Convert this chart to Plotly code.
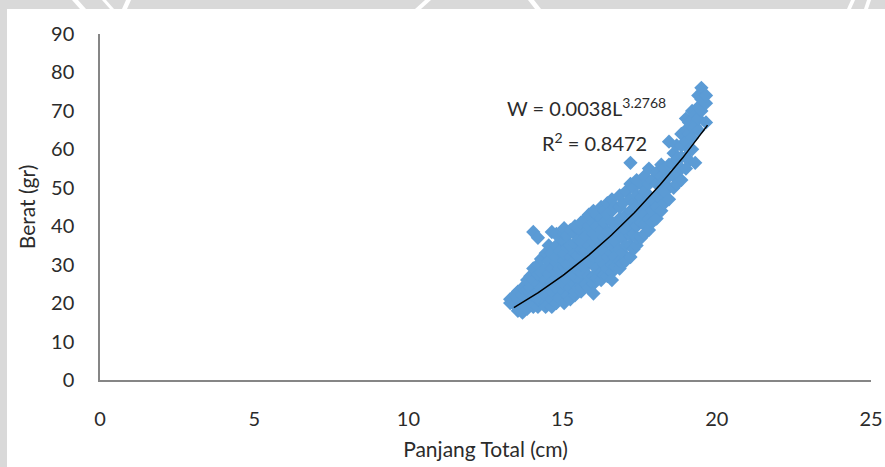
import numpy as np
import plotly.graph_objects as go

# ---- data ----
panjang = {
    13.3: [21, 20],
    13.45: [19.5, 22],
    13.55: [18, 21, 23],
    13.7: [17.5, 20, 22, 24, 19],
    13.85: [18.5, 21, 23.5, 26],
    13.95: [20, 24, 27],
    14.05: [38.5, 22, 26, 19, 29],
    14.2: [19, 21, 23, 25, 27.5, 30, 37],
    14.3: [20.5, 24, 28, 31.5],
    14.45: [20, 22, 26, 29, 33, 19],
    14.55: [24, 27.5, 31, 35],
    14.65: [19, 21, 23, 25.5, 29, 33, 38.5],
    14.8: [20, 22, 24, 26.5, 28, 30.5, 32, 35, 38],
    14.9: [21.5, 25, 29, 33.5, 37],
    15.05: [20, 23, 25, 27, 29.5, 31, 33, 36, 38, 39.5],
    15.15: [22, 26, 30, 34.5, 37.5],
    15.25: [21, 24, 28, 32, 35, 39],
    15.4: [22, 25, 27, 29, 31, 33, 35.5, 38, 40, 23],
    15.5: [24, 28.5, 32.5, 36.5, 39.5],
    15.6: [23, 26, 28, 30, 32, 34, 36, 39, 41, 24],
    15.75: [25, 29.5, 33.5, 37.5, 42],
    15.85: [24, 27, 31, 35, 40, 43],
    16.0: [25, 27, 30, 32, 34, 36, 38, 41, 44, 22.5],
    16.1: [26.5, 29, 33, 37, 40, 43],
    16.25: [26, 28, 31, 35, 39, 42, 45],
    16.35: [27.5, 30, 33.5, 37, 41, 44],
    16.45: [27, 29, 32, 36, 38.5, 43, 46],
    16.6: [28, 30, 33, 35, 37, 39, 41, 44, 47, 26],
    16.7: [29.5, 32, 36, 40, 45],
    16.85: [29, 31, 34, 38, 42, 45, 48],
    16.95: [30.5, 33, 37, 41, 46],
    17.05: [31, 35, 39, 43, 49],
    17.2: [32, 35, 37.5, 40, 42, 44, 47, 51, 56.5],
    17.3: [34, 38, 42.5, 46, 50],
    17.4: [35, 37, 40, 43, 45, 48, 52],
    17.55: [37, 41, 44, 47.5, 51],
    17.65: [38, 40.5, 43, 46, 49, 53],
    17.8: [39, 42, 45, 48, 51, 55],
    17.9: [41, 44, 47, 52],
    18.05: [42, 45, 48, 51, 54],
    18.2: [44, 47, 50, 53, 56],
    18.3: [46, 49, 52, 55],
    18.45: [47, 50, 53, 56, 62],
    18.6: [50, 53, 56, 59],
    18.7: [51, 54, 57.5, 61],
    18.85: [52, 55, 58, 61, 64],
    19.0: [55, 58, 62, 65, 68],
    19.1: [57, 60, 64, 67],
    19.2: [60, 63, 66, 70],
    19.3: [56.5, 66, 69],
    19.4: [65, 68, 71, 74],
    19.5: [76, 70, 73],
    19.65: [72, 74, 67],
}
x_len = [x for x, ys in panjang.items() for _ in ys]
y_berat = [y for ys in panjang.values() for y in ys]

coef_a = 0.0038
coef_b = 3.2768
trend_x_min, trend_x_max = 13.42, 19.7
x_ticks = [0, 5, 10, 15, 20, 25]
y_ticks = [0, 10, 20, 30, 40, 50, 60, 70, 80, 90]

# ---- figure ----
W, H = 885, 467
L, R, T, B = 100, 14, 34, 87
pw, ph = W - L - R, H - T - B


def px(xp):
    return (xp - L) / pw


def py(yp):
    return (H - B - yp) / ph


fig = go.Figure()
fig.add_trace(go.Scatter(
    x=x_len, y=y_berat, mode="markers",
    marker=dict(symbol="diamond", size=11, color="#5B9BD5",
                line=dict(width=0)),
    showlegend=False, hoverinfo="x+y"))

tx = np.linspace(trend_x_min, trend_x_max, 120)
fig.add_trace(go.Scatter(
    x=tx, y=coef_a * tx ** coef_b, mode="lines",
    line=dict(color="black", width=1.5), showlegend=False, hoverinfo="skip"))

font = "Lato, Open Sans, sans-serif"
txt = "#2b2b2b"
shapes = [dict(type="rect", xref="paper", yref="paper",
               x0=px(7), x1=px(885), y0=py(467), y1=py(9),
               fillcolor="white", line=dict(width=0), layer="below")]
# watermark fragments in the top grey band
for (a0, a1, b0, b1) in [(72, 78, 80, 86), (102, 106, 110, 114), (126, 131, 122, 127),
                         (425, 431, 415, 421), (528, 534, 535, 541), (851, 855, 847, 851),
                         (867, 871, 864, 868)]:
    path = "M {} {} L {} {} L {} {} L {} {} Z".format(
        px(a0), py(0), px(a1), py(0), px(b1), py(9), px(b0), py(9))
    shapes.append(dict(type="path", xref="paper", yref="paper", path=path,
                       fillcolor="white", line=dict(width=0), layer="below"))

fig.update_layout(
    width=W, height=H,
    margin=dict(l=L, r=R, t=T, b=B, pad=0, autoexpand=False),
    paper_bgcolor="#d9d9d9", plot_bgcolor="white",
    font=dict(family=font, size=20, color=txt),
    shapes=shapes,
    xaxis=dict(range=[0, 25], tickvals=x_ticks, showgrid=False, zeroline=False,
               showline=True, linecolor="#868686", linewidth=1.5, ticks="",
               ticklabelstandoff=20, fixedrange=True, automargin=False,
               tickfont=dict(size=20, color=txt),
               title=dict(text="Panjang Total (cm)", standoff=14,
                          font=dict(size=21, color=txt))),
    yaxis=dict(range=[0, 90], tickvals=y_ticks, showgrid=False, zeroline=False,
               showline=True, linecolor="#868686", linewidth=1.5, ticks="",
               ticklabelstandoff=20, fixedrange=True, automargin=False,
               tickfont=dict(size=20, color=txt),
               title=dict(text="Berat (gr)", standoff=10,
                          font=dict(size=21, color=txt))),
    annotations=[
        dict(x=px(586), y=py(92), xref="paper", yref="paper",
             text="W = 0.0038L<sup>3.2768</sup>", showarrow=False,
             font=dict(size=20, color=txt)),
        dict(x=px(594), y=py(127), xref="paper", yref="paper",
             text="R<sup>2</sup> = 0.8472", showarrow=False,
             font=dict(size=20, color=txt)),
    ],
)

fig.write_html("out.html")
